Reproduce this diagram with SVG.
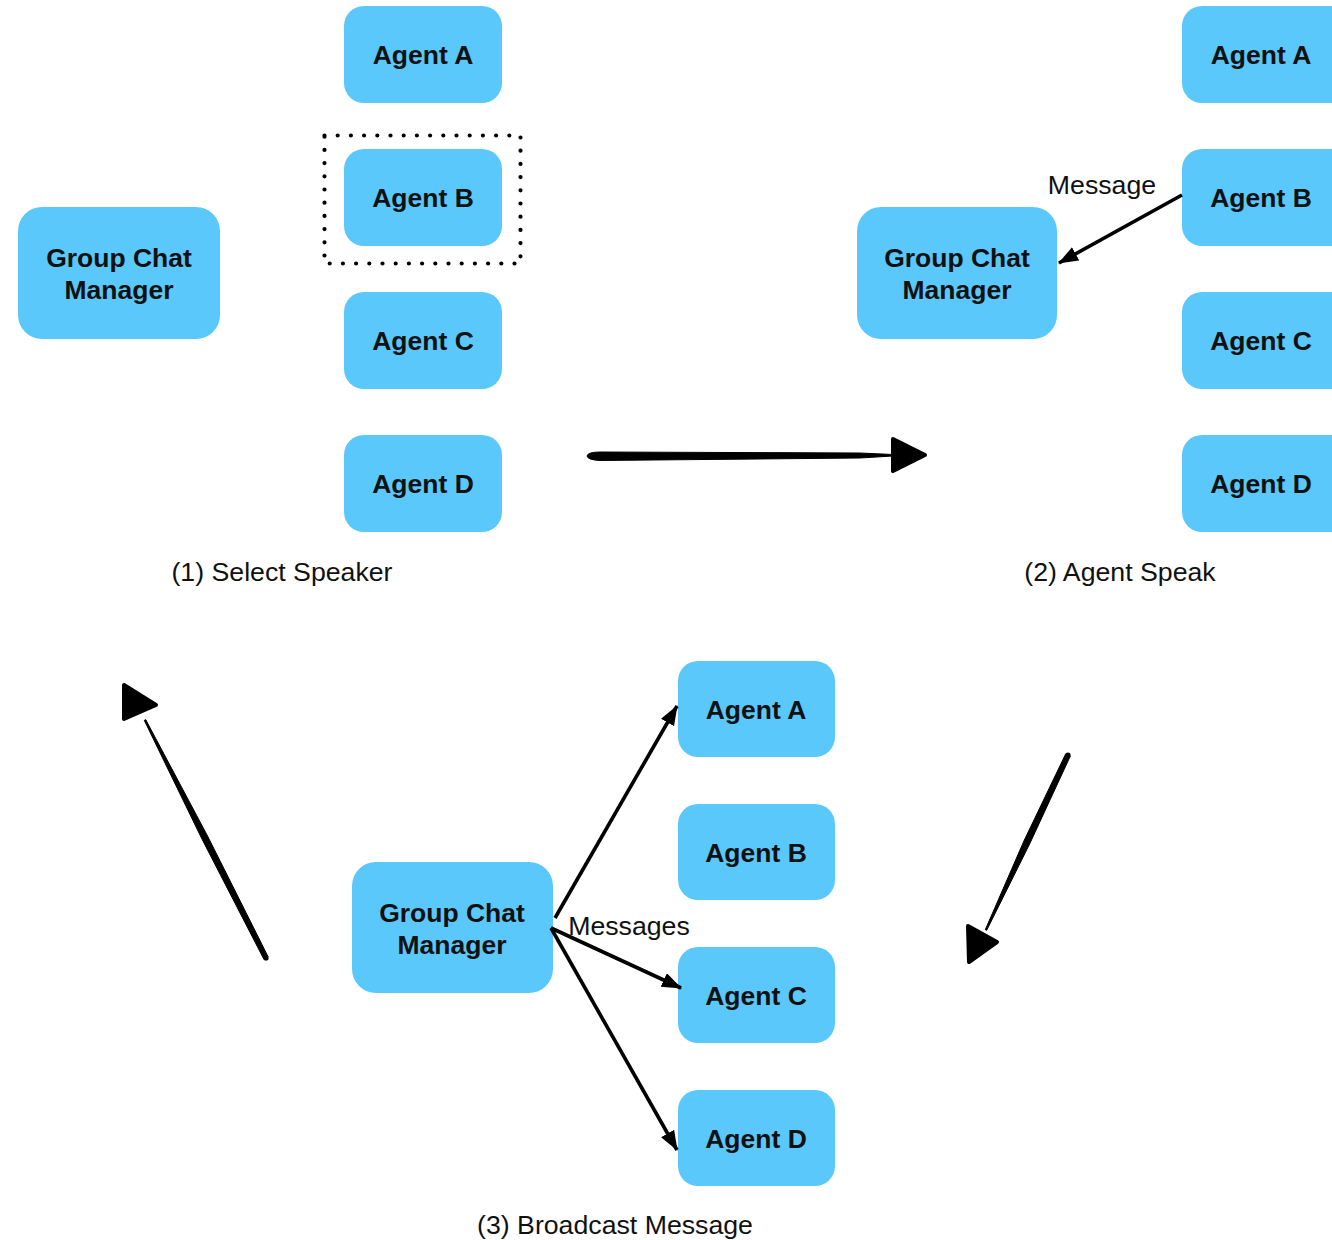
<svg xmlns="http://www.w3.org/2000/svg" width="1332" height="1240" viewBox="0 0 1332 1240">
<defs>
<style>
.node{fill:#5AC8FA;}
.nt{font-family:"Liberation Sans",Arial,sans-serif;font-weight:bold;font-size:26.5px;fill:#111;text-anchor:middle;}
.lbl{font-family:"Liberation Sans",Arial,sans-serif;font-size:26.7px;fill:#111;text-anchor:middle;}
.edge{stroke:#000;stroke-width:3.6;fill:none;}
.big{fill:#000;stroke:#000;stroke-width:1;stroke-linejoin:round;}
.head{fill:#000;stroke:#000;stroke-width:4;stroke-linejoin:round;}
</style>
<marker id="ah" markerUnits="userSpaceOnUse" markerWidth="22" markerHeight="16" refX="19" refY="7.5" orient="auto">
<path d="M0,0 L20,7.5 L0,15 Z" fill="#000"/>
</marker>
</defs>
<rect width="1332" height="1240" fill="#fff"/>

<!-- Panel 1 -->
<g id="p1-manager"><rect class="node" x="18" y="207" width="202" height="132" rx="24"/><text class="nt" x="119" y="267">Group Chat</text><text class="nt" x="119" y="299">Manager</text></g>
<g id="p1-agentA"><rect class="node" x="344" y="6" width="158" height="97" rx="20"/><text class="nt" x="423" y="64">Agent A</text></g>
<g id="p1-agentB"><rect class="node" x="344" y="149" width="158" height="97" rx="20"/><text class="nt" x="423" y="207">Agent B</text></g>
<g id="p1-agentC"><rect class="node" x="344" y="292" width="158" height="97" rx="20"/><text class="nt" x="423" y="350">Agent C</text></g>
<g id="p1-agentD"><rect class="node" x="344" y="435" width="158" height="97" rx="20"/><text class="nt" x="423" y="493">Agent D</text></g>
<g id="p1-select"><rect x="324.5" y="135.5" width="196" height="128" fill="none" stroke="#000" stroke-width="4.2" stroke-dasharray="0 13.2" stroke-linecap="round"/></g>
<text class="lbl" x="282" y="581">(1) Select Speaker</text>

<!-- Panel 2 -->
<g id="p2-manager"><rect class="node" x="857" y="207" width="200" height="132" rx="24"/><text class="nt" x="957" y="267">Group Chat</text><text class="nt" x="957" y="299">Manager</text></g>
<g id="p2-agentA"><rect class="node" x="1182" y="6" width="170" height="97" rx="20"/><text class="nt" x="1261" y="64">Agent A</text></g>
<g id="p2-agentB"><rect class="node" x="1182" y="149" width="170" height="97" rx="20"/><text class="nt" x="1261" y="207">Agent B</text></g>
<g id="p2-agentC"><rect class="node" x="1182" y="292" width="170" height="97" rx="20"/><text class="nt" x="1261" y="350">Agent C</text></g>
<g id="p2-agentD"><rect class="node" x="1182" y="435" width="170" height="97" rx="20"/><text class="nt" x="1261" y="493">Agent D</text></g>
<text class="lbl" x="1120" y="581">(2) Agent Speak</text>

<!-- Panel 3 -->
<g id="p3-manager"><rect class="node" x="352" y="862" width="201" height="131" rx="24"/><text class="nt" x="452" y="922">Group Chat</text><text class="nt" x="452" y="954">Manager</text></g>
<g id="p3-agentA"><rect class="node" x="678" y="661" width="157" height="96" rx="20"/><text class="nt" x="756" y="719">Agent A</text></g>
<g id="p3-agentB"><rect class="node" x="678" y="804" width="157" height="96" rx="20"/><text class="nt" x="756" y="862">Agent B</text></g>
<g id="p3-agentC"><rect class="node" x="678" y="947" width="157" height="96" rx="20"/><text class="nt" x="756" y="1005">Agent C</text></g>
<g id="p3-agentD"><rect class="node" x="678" y="1090" width="157" height="96" rx="20"/><text class="nt" x="756" y="1148">Agent D</text></g>
<text class="lbl" x="615" y="1234">(3) Broadcast Message</text>

<!-- Connectors -->
<g id="connectors">
<line class="edge" x1="1182" y1="195" x2="1059" y2="263" marker-end="url(#ah)"/>
<text class="lbl" x="1102" y="194" font-size="25.5">Message</text>
<line class="edge" x1="555" y1="918" x2="677" y2="706" marker-end="url(#ah)"/>
<line class="edge" x1="551" y1="928" x2="681" y2="988" marker-end="url(#ah)"/>
<line class="edge" x1="551" y1="928" x2="677" y2="1150" marker-end="url(#ah)"/>
<text class="lbl" x="629" y="935" font-size="25.5">Messages</text>

<!-- big transition arrows -->
<path class="big" d="M587,456 Q588,452 600,452 L860,453 L893,454.5 L893,456 L860,458 L600,460.5 Q588,460 587,456 Z"/>
<path class="head" d="M893,439 L925,455 L893,471 Z"/>

<path class="big" d="M268.2,956.9 L207.8,836.5 L145.7,719.6 L144.3,720.4 L202.2,839.5 L263.8,959.1 Z"/>
<circle cx="266" cy="958" r="2.6" fill="#000"/>
<path class="head" d="M124,685 L156,705 L124,719 Z"/>

<path class="big" d="M1070.3,756.1 L1029.9,843.4 L986.7,930.3 L985.3,929.7 L1024.1,840.6 L1065.7,753.9 Z"/>
<circle cx="1068" cy="755" r="2.6" fill="#000"/>
<path class="head" d="M968,926 L997,942 L969,962 Z"/>
</g>
</svg>
